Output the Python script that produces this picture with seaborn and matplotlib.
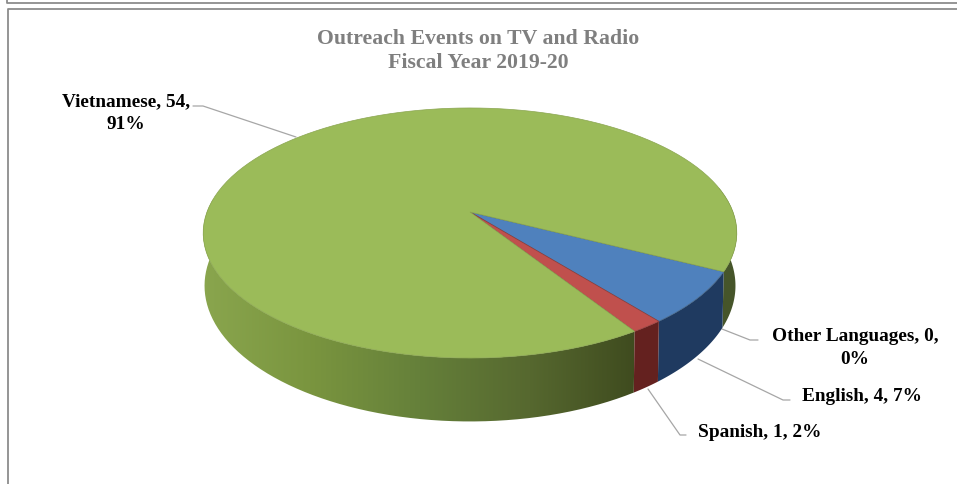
import numpy as np
import seaborn as sns
import matplotlib
matplotlib.use("Agg")
import matplotlib.pyplot as plt
from matplotlib.colors import LinearSegmentedColormap
from matplotlib.lines import Line2D
from matplotlib.patches import PathPatch
from matplotlib.path import Path
from matplotlib.transforms import Affine2D, Transform

categories = ["English", "Spanish", "Vietnamese", "Other Languages"]
events = [4, 1, 54, 0]
percents = [7, 2, 91, 0]
title_lines = ["Outreach Events on TV and Radio", "Fiscal Year 2019-20"]

face_colors = ["#4f81bd", "#c0504d", "#9bbb59", "#9bbb59"]
wall_colors = ["#1f3a60", "#64211f"]
green_wall = ["#8aa64e", "#7a953f", "#65803a", "#56682f", "#3e4a1e"]

sns.set_theme(style="white")
plt.rcParams["font.family"] = ["Liberation Serif", "DejaVu Serif"]

W, H = 957, 485
fig = plt.figure(figsize=(W / 100, H / 100), dpi=100)
ax = fig.add_axes([0, 0, 1, 1])

# Tilted disc: unit circle to canvas pixels, with the far side foreshortened
CX, CY = 470.0, 213.0
TILT = 0.168
SX, SY = 263.0, 121.5
START = -27.0
# The lower rim sits closer to the viewer, so it is drawn with its own scale
RIM_DROP, RIM_SX, RIM_SY = 51.0, 0.995, 1.085


def project(x, y, drop=0.0, kx=1.0, ky=1.0):
    w = 1 + TILT * y
    return CX + kx * SX * x / w, CY + drop - ky * SY * y / w


class DiscProjection(Transform):
    input_dims = output_dims = 2
    is_affine = False

    def transform_non_affine(self, values):
        values = np.asarray(values)
        return np.column_stack(project(values[:, 0], values[:, 1]))

    def transform_path_non_affine(self, path):
        scaled = path.transformed(Affine2D().scale(400))
        polys = scaled.to_polygons(closed_only=True)
        pts = polys[0] / 400 if len(polys) else np.zeros((1, 2))
        return Path(self.transform_non_affine(pts), closed=True)


def rim(t1, t2, n=160):
    t = np.radians(np.linspace(t1, t2, n))
    return np.cos(t), np.sin(t)


def wall_polygon(t1, t2):
    x, y = rim(t1, t2)
    top = np.column_stack(project(x, y))
    bottom = np.column_stack(project(x, y, RIM_DROP, RIM_SX, RIM_SY))
    return np.vstack([top, bottom[::-1]])


# Slice boundaries follow the event counts, clockwise from the start angle
sweeps = np.array(events) / sum(events) * 360
edges = START - np.concatenate([[0], np.cumsum(sweeps)])

# Green outer wall, shaded from left to right
cmap = LinearSegmentedColormap.from_list("wall", green_wall)
gradient = np.linspace(0, 1, 256).reshape(1, -1)
wall_img = ax.imshow(gradient, extent=(200, 640, 430, 200), cmap=cmap,
                     aspect="auto", zorder=1)
green_path = PathPatch(Path(wall_polygon(-215, edges[2])),
                       transform=ax.transData, fc="none", ec="none")
ax.add_patch(green_path)
wall_img.set_clip_path(green_path)

# Short back-right sliver of the green wall
ax.fill(*wall_polygon(START, 12).T, color="#46552a", lw=0, zorder=1)

# Blue and red walls
ax.fill(*wall_polygon(edges[0], edges[1]).T, color=wall_colors[0], lw=0, zorder=1.2)
ax.fill(*wall_polygon(edges[1], edges[2]).T, color=wall_colors[1], lw=0, zorder=1.3)

# Top faces are the pie wedges themselves, sent through the disc projection
wedges, _ = ax.pie(events, colors=face_colors, startangle=START, counterclock=False,
                   radius=1, frame=True, normalize=True)
projection = DiscProjection() + ax.transData
for w in wedges:
    w.set_transform(projection)
    w.set_zorder(2)
    w.set_linewidth(0.5)
    w.set_clip_on(False)
wedges[0].set_edgecolor("#3f5f80")
wedges[1].set_edgecolor("#8c3a38")
wedges[2].set_edgecolor("#8aa550")
wedges[3].set_edgecolor("none")

ax.set_xlim(0, W)
ax.set_ylim(H, 0)
ax.set_aspect("auto")
ax.axis("off")

# Outer frames of the page
frame_color = "#8c8c8c"
for xs, ys in [([8, 8, W], [H, 9.5, 9.5]), ([7, 7, W], [0, 4, 4])]:
    ax.add_line(Line2D(xs, ys, color=frame_color, lw=1.3, zorder=0))

# Title
for line, y in zip(title_lines, [39, 63]):
    ax.text(478, y, line, ha="center", va="center", fontsize=15.7,
            fontweight="bold", color="#7f7f7f")

# Data labels and leader lines
label_style = dict(ha="center", va="center", fontsize=13.9,
                   fontweight="bold", color="black", linespacing=1.45)
leader_color = "#a6a6a6"
labels = [
    (f"{categories[2]}, {events[2]},\n{percents[2]}%", 126, 113,
     [296, 203, 193], [138, 107, 107]),
    (f"{categories[3]}, {events[3]},\n{percents[3]}%", 855, 348,
     [722, 750, 758], [330, 341, 341]),
    (f"{categories[0]}, {events[0]}, {percents[0]}%", 862, 397,
     [698, 783, 790], [360, 401, 401]),
    (f"{categories[1]}, {events[1]}, {percents[1]}%", 760, 433,
     [648, 680, 686], [390, 436, 436]),
]
for text, x, y, lx, ly in labels:
    ax.text(x, y, text, **label_style)
    ax.add_line(Line2D(lx, ly, color=leader_color, lw=0.9, zorder=0.5))

fig.savefig("out.png", dpi=100)
